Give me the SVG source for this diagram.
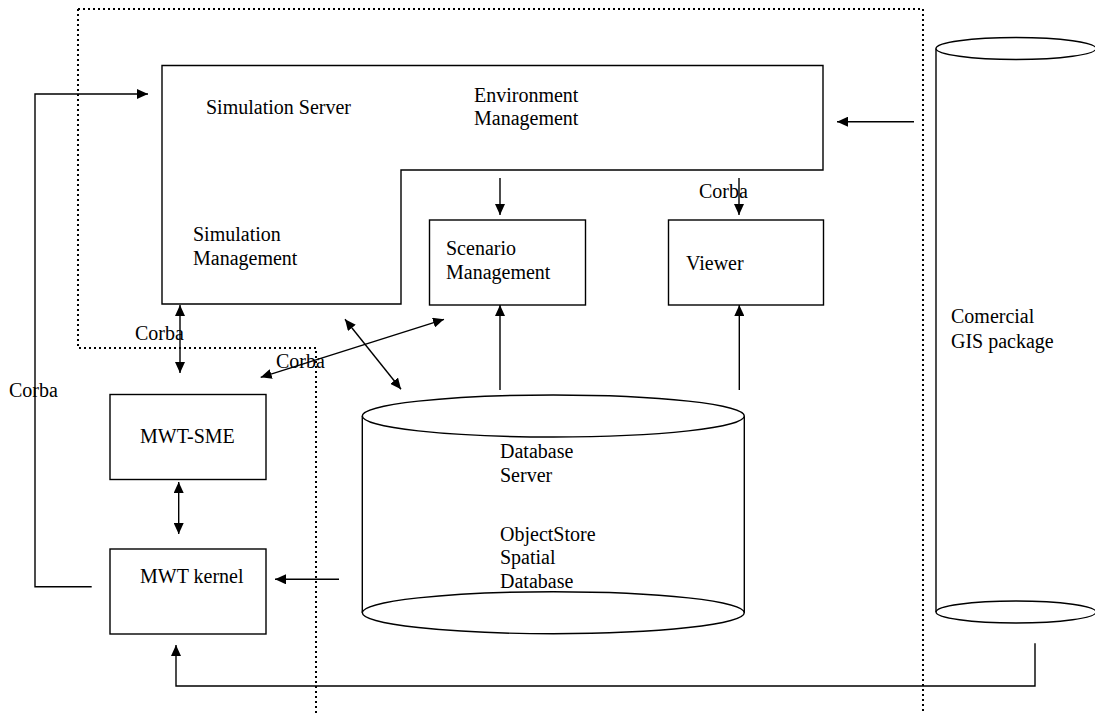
<svg xmlns="http://www.w3.org/2000/svg" width="1095" height="714" viewBox="0 0 1095 714">
<style>
.s{fill:none;stroke:#000;stroke-width:1.4}
.b{fill:#fff;stroke:#000;stroke-width:1.4}
.d{fill:none;stroke:#000;stroke-width:2;stroke-dasharray:2 3}
text{font-family:"Liberation Serif","Times New Roman",serif;font-size:20px;fill:#000}
</style>
<defs>
<marker id="ah" markerUnits="userSpaceOnUse" markerWidth="12" markerHeight="10" refX="11" refY="5" orient="auto-start-reverse">
<path d="M0,0 L11,5 L0,10 Z" fill="#000"/>
</marker>
</defs>
<rect width="1095" height="714" fill="#fff"/>
<g id="boundary">
<path class="d" d="M78,9 H923 V714 M78,9 V348 H316 V714"/>
</g>
<g id="simulation-server">
<path class="b" d="M162,65.5 H823 V170 H401 V304 H162 Z"/>
<text x="206" y="114">Simulation Server</text>
<text x="474" y="102">Environment</text>
<text x="474" y="125">Management</text>
<text x="193" y="241">Simulation</text>
<text x="193" y="265">Management</text>
</g>
<g id="scenario-management">
<rect class="b" x="429.5" y="220" width="156" height="85"/>
<text x="446" y="255">Scenario</text>
<text x="446" y="279">Management</text>
</g>
<g id="viewer">
<rect class="b" x="668.5" y="220" width="155" height="85"/>
<text x="686" y="270">Viewer</text>
</g>
<g id="mwt-sme">
<rect class="b" x="110" y="394.5" width="156" height="85"/>
<text x="140" y="443">MWT-SME</text>
</g>
<g id="mwt-kernel">
<rect class="b" x="110" y="549" width="156" height="85"/>
<text x="140" y="583">MWT kernel</text>
</g>
<g id="database-server">
<path class="b" d="M362.3,416 V612.7 A191,21 0 0 0 744.3,612.7 V416"/>
<ellipse class="b" cx="553.3" cy="416" rx="191" ry="21"/>
<path class="s" d="M362.3,612.7 A191,21 0 0 1 744.3,612.7"/>
<text x="500" y="458">Database</text>
<text x="500" y="482">Server</text>
<text x="500" y="541">ObjectStore</text>
<text x="500" y="564">Spatial</text>
<text x="500" y="588">Database</text>
</g>
<g id="gis-package">
<path class="b" d="M936,48.5 V612 A80,11 0 0 0 1096,612 V48.5"/>
<ellipse class="b" cx="1016" cy="48.5" rx="80" ry="11"/>
<path class="s" d="M936,612 A80,11 0 0 1 1096,612"/>
<text x="951" y="323">Comercial</text>
<text x="951" y="348">GIS package</text>
</g>
<g id="connectors">
<path class="s" d="M914,121.7 H837" marker-end="url(#ah)"/>
<path class="s" d="M500,178 V215" marker-end="url(#ah)"/>
<path class="s" d="M739,178 V215" marker-end="url(#ah)"/>
<path class="s" d="M500,390 V305" marker-end="url(#ah)"/>
<path class="s" d="M739.3,390 V305" marker-end="url(#ah)"/>
<path class="s" d="M180,305 V373" marker-start="url(#ah)" marker-end="url(#ah)"/>
<path class="s" d="M178.7,482 V534" marker-start="url(#ah)" marker-end="url(#ah)"/>
<path class="s" d="M345,319.3 L401,389.3" marker-start="url(#ah)" marker-end="url(#ah)"/>
<path class="s" d="M260.7,377.3 L444,319.3" marker-start="url(#ah)" marker-end="url(#ah)"/>
<path class="s" d="M339,579.3 H275" marker-end="url(#ah)"/>
<path class="s" d="M91.7,586.7 H35 V94 H148" marker-end="url(#ah)"/>
<path class="s" d="M1035,643.3 V686 H176 V645" marker-end="url(#ah)"/>
<text x="699" y="198">Corba</text>
<text x="135" y="340">Corba</text>
<text x="276" y="368">Corba</text>
<text x="9" y="397">Corba</text>
</g>
</svg>
